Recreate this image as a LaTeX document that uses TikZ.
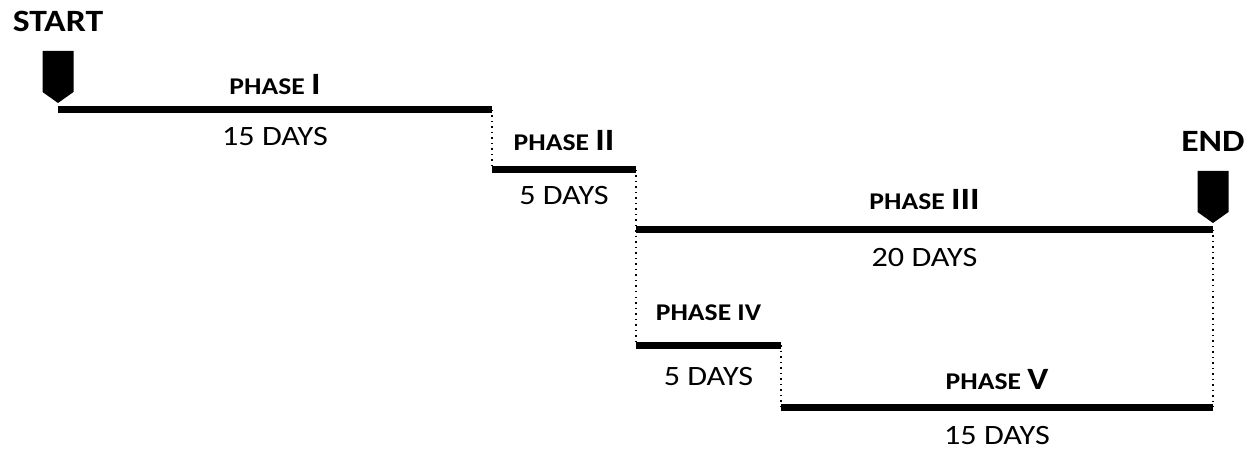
\documentclass[tikz,border=0pt]{standalone}
\usepackage{fontspec}
\setmainfont[FakeStretch=1.15]{Carlito}
\usetikzlibrary{positioning}
\tikzset{
  phaseline/.style={line width=3.5pt, line cap=butt},
  linkline/.style={dotted, line width=0.75pt},
  phasename/.style={font=\bfseries\fontsize{12}{13}\selectfont, anchor=base, inner sep=0.5pt},
  phaselen/.style={font=\fontsize{14}{15}\selectfont, anchor=base, inner sep=0.5pt},
  milestone/.style={font=\bfseries\fontsize{15.5}{17}\selectfont, anchor=base, inner sep=0.5pt},
  flag/.pic={\fill (-15.5,-59) -- (15.5,-59) -- (15.5,-18) -- (0,-7) -- (-15.5,-18) -- cycle;},
}
\newcommand{\bignum}[1]{{\fontsize{15.5}{16}\selectfont #1}}

\begin{document}
\begin{tikzpicture}[x=0.5pt, y=-0.5pt]
  \useasboundingbox (0,0) rectangle (1260,449);

  % step corners
  \coordinate (s1) at (58,110);
  \coordinate (e1) at (492,110);
  \coordinate (s2) at (492,170);
  \coordinate (e2) at (636,170);
  \coordinate (s3) at (636,230);
  \coordinate (e3) at (1213,230);
  \coordinate (s4) at (636,345);
  \coordinate (e4) at (781,345);
  \coordinate (s5) at (781,407);
  \coordinate (e5) at (1213,407);

  % dotted links between phases
  \draw[linkline] (e1) -- (s2);
  \draw[linkline] (e2) -- (s4);
  \draw[linkline] (e4) -- (s5);
  \draw[linkline] (e3) -- (e5);

  % phases
  \draw[phaseline] (s1) -- node[phasename, yshift=7.5pt] (n1) {PHASE \bignum{I}}
    node[phaselen, yshift=-18pt] (d1) {15 DAYS} (e1);
  \draw[phaseline] (s2) -- node[phasename, yshift=9.5pt] (n2) {PHASE \bignum{II}}
    node[phaselen, yshift=-17.5pt] (d2) {5 DAYS} (e2);
  \draw[phaseline] (s3) -- node[phasename, yshift=10pt] (n3) {PHASE \bignum{III}}
    node[phaselen, yshift=-18.5pt] (d3) {20 DAYS} (e3);
  \draw[phaseline] (s4) -- node[phasename, yshift=12pt] (n4) {PHASE IV}
    node[phaselen, yshift=-20pt] (d4) {5 DAYS} (e4);
  \draw[phaseline] (s5) -- node[phasename, yshift=9pt] (n5) {PHASE \bignum{V}}
    node[phaselen, yshift=-18.5pt] (d5) {15 DAYS} (e5);

  % start and end markers
  \pic at (s1) {flag};
  \pic at (e3) {flag};
  \path (s1) ++(0,-78) node[milestone] (start) {START};
  \path (e3) ++(0,-78) node[milestone] (end) {END};
\end{tikzpicture}
\end{document}
